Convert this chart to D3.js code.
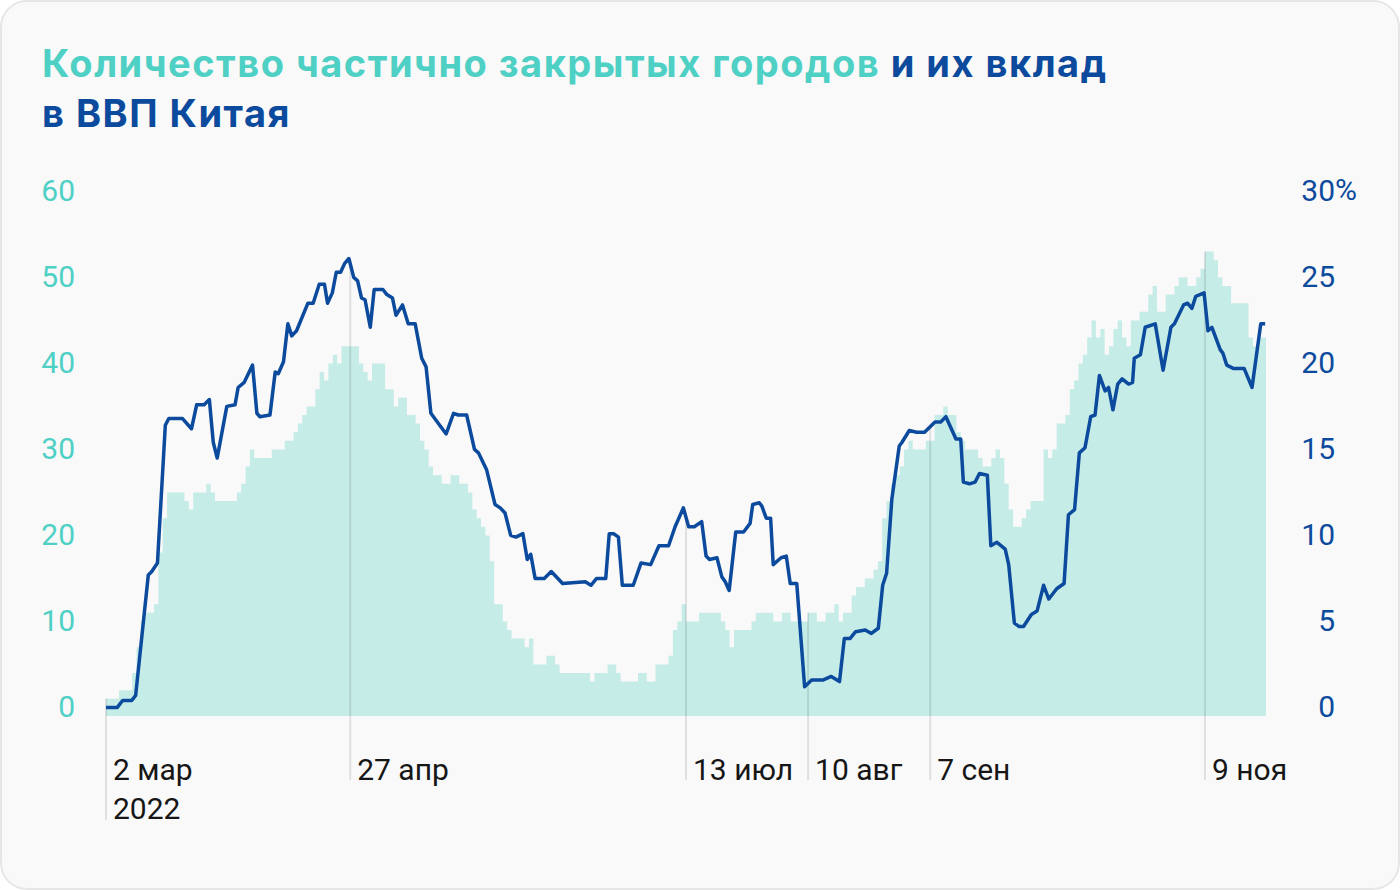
<!DOCTYPE html>
<html lang="ru">
<head>
<meta charset="utf-8">
<script src="https://cdn.jsdelivr.net/npm/d3@7"></script>
<style>
    body { margin: 0; background: #ffffff; }
    svg { display: block; font-family: Roboto, "Noto Sans", sans-serif; }
</style>
</head>
<body>
<div id="chart-area"></div>
<script>

// days are counted from 2 Mar 2022
const startDate = new Date(2022, 2, 2);
const lastDay = 266;

// partly locked-down cities: day where the count changes -> count
const cityStepDays = [
    0, 3, 6, 7, 8, 9, 11, 12, 13, 14,
    18, 19, 20, 23, 24, 25, 30, 31, 32, 33,
    34, 38, 41, 43, 44, 45, 46, 48, 49, 50,
    51, 52, 53, 54, 58, 59, 60, 61, 64, 66,
    67, 69, 71, 72, 73, 74, 75, 77, 79, 81,
    83, 84, 85, 86, 87, 88, 89, 91, 92, 93,
    96, 97, 98, 101, 103, 104, 111, 112, 115, 117,
    118, 122, 124, 126, 129, 130, 131, 132, 133, 136,
    141, 142, 143, 144, 148, 149, 153, 155, 157, 161,
    163, 165, 167, 168, 169, 171, 172, 174, 176, 177,
    178, 179, 180, 181, 182, 183, 184, 185, 188, 190,
    192, 193, 195, 196, 197, 200, 201, 203, 204, 205,
    206, 207, 208, 210, 211, 212, 215, 216, 217, 218,
    220, 221, 222, 223, 224, 225, 226, 227, 228, 229,
    230, 231, 232, 233, 234, 235, 237, 239, 240, 241,
    243, 245, 246, 248, 250, 251, 252, 254, 255, 256,
    258, 262, 263, 264
];
const cityCounts = [
    2, 3, 5, 8, 11, 12, 13, 19, 23, 26,
    25, 24, 26, 27, 26, 25, 26, 27, 29, 31,
    30, 31, 32, 33, 34, 35, 36, 38, 40, 39,
    41, 42, 41, 43, 41, 40, 39, 41, 38, 36,
    37, 35, 34, 32, 31, 29, 28, 27, 28, 27,
    26, 24, 23, 22, 21, 18, 13, 11, 10, 9,
    8, 9, 6, 7, 6, 5, 4, 5, 6, 5,
    4, 5, 4, 6, 7, 10, 11, 13, 11, 12,
    11, 10, 8, 10, 11, 12, 11, 12, 11, 12,
    11, 12, 13, 11, 12, 14, 15, 16, 17, 18,
    23, 25, 27, 28, 29, 31, 32, 31, 32, 35,
    36, 35, 33, 32, 31, 30, 29, 30, 31, 30,
    27, 24, 22, 23, 24, 25, 31, 30, 31, 34,
    35, 38, 39, 41, 42, 44, 46, 44, 45, 42,
    43, 45, 46, 44, 43, 46, 47, 49, 50, 47,
    49, 50, 51, 50, 51, 52, 54, 53, 51, 50,
    48, 44, 43, 44
];

// their share of China's GDP, %
const gdpDays = [
    0, 2.6, 3.8, 5.9, 6.8, 9.7, 10.5, 11.8, 13.6, 14.4,
    17.5, 19.6, 20.8, 22.5, 23.7, 24.6, 25.5, 27.7, 29.6, 30.3,
    31.7, 33.6, 34.6, 35.3, 37.6, 38.8, 39.5, 40.7, 41.7, 42.6,
    43.7, 46.3, 47.5, 48.9, 50.1, 50.8, 51.9, 52.8, 53.8, 54.7,
    55.7, 56.8, 57.7, 58.6, 59.4, 60.6, 61.5, 63.5, 64.4, 65.7,
    66.5, 68.0, 69.3, 70.9, 72.4, 73.4, 74.5, 78.0, 79.7, 80.8,
    82.7, 84.5, 85.4, 87.3, 89.2, 90.4, 91.5, 92.8, 94.0, 95.6,
    96.6, 97.4, 98.4, 100.5, 102.1, 104.7, 109.9, 111.2, 112.5, 114.6,
    115.4, 116.4, 117.5, 118.4, 120.9, 122.7, 124.9, 126.8, 129.0, 130.5,
    132.4, 133.6, 134.9, 136.6, 137.6, 138.4, 140.1, 141.2, 142.0, 142.9,
    144.4, 146.2, 147.7, 148.3, 149.8, 150.4, 151.4, 152.4, 153.0, 154.8,
    156.0, 156.9, 158.4, 160.2, 161.8, 164.5, 166.3, 168.2, 169.3, 170.6,
    171.9, 174.1, 175.5, 177.1, 178.1, 179.0, 180.2, 181.9, 182.5, 184.2,
    185.9, 187.7, 190.1, 191.4, 192.6, 194.9, 196.0, 196.6, 198.0, 199.3,
    200.3, 202.1, 202.9, 204.3, 206.2, 207.0, 208.3, 209.4, 210.4, 212.2,
    213.5, 215.0, 216.2, 218.0, 219.7, 220.7, 222.1, 223.2, 224.5, 225.8,
    226.8, 227.8, 229.1, 229.9, 230.9, 232.0, 233.0, 234.5, 235.4, 235.8,
    237.2, 238.3, 240.6, 242.4, 244.2, 245.0, 247.1, 248.0, 249.0, 249.9,
    251.8, 252.7, 253.6, 255.5, 256.1, 257.0, 258.6, 261.0, 262.8, 264.8,
    265.8
];
const gdpShare = [
    0.5, 0.5, 0.9, 0.9, 1.2, 8.2, 8.4, 8.9, 16.9, 17.3,
    17.3, 16.7, 18.1, 18.1, 18.4, 15.9, 15.0, 18.0, 18.1, 19.1,
    19.4, 20.4, 17.6, 17.4, 17.5, 20.0, 19.9, 20.6, 22.8, 22.1,
    22.4, 24.0, 24.0, 25.1, 25.1, 24.0, 24.6, 25.8, 25.8, 26.3,
    26.6, 25.5, 25.3, 24.3, 24.2, 22.6, 24.8, 24.8, 24.5, 24.3,
    23.3, 23.9, 22.8, 22.8, 20.8, 20.3, 17.6, 16.4, 17.6, 17.5,
    17.5, 15.5, 15.3, 14.3, 12.3, 12.1, 11.8, 10.5, 10.4, 10.6,
    9.1, 9.4, 8.0, 8.0, 8.4, 7.7, 7.8, 7.6, 8.0, 8.0,
    10.6, 10.6, 10.4, 7.6, 7.6, 8.9, 8.8, 9.9, 9.9, 11.0,
    12.1, 11.0, 11.0, 11.3, 9.3, 9.1, 9.2, 8.1, 7.8, 7.3,
    10.7, 10.7, 11.2, 12.3, 12.4, 12.2, 11.5, 11.5, 8.8, 9.2,
    9.3, 7.7, 7.7, 1.7, 2.1, 2.1, 2.3, 2.0, 4.5, 4.5,
    4.9, 5.0, 4.8, 5.1, 7.6, 8.3, 12.6, 15.7, 15.9, 16.6,
    16.5, 16.5, 17.1, 17.1, 17.4, 16.1, 16.1, 13.6, 13.5, 13.6,
    14.1, 14.0, 9.9, 10.1, 9.7, 8.8, 5.4, 5.2, 5.2, 5.9,
    6.1, 7.6, 6.8, 7.4, 7.7, 11.7, 12.0, 15.3, 15.6, 17.4,
    17.5, 19.8, 18.9, 19.1, 17.8, 19.3, 19.6, 19.3, 19.4, 20.8,
    21.0, 22.6, 22.8, 20.1, 22.6, 22.8, 23.9, 24.0, 23.7, 24.4,
    24.6, 22.4, 22.6, 21.3, 21.1, 20.4, 20.2, 20.2, 19.1, 22.8,
    22.8
];

const cityTicks = [0, 10, 20, 30, 40, 50, 60];
const gdpTicks = [0, 5, 10, 15, 20, 25, 30];
const dateTicks = [new Date(2022, 2, 2), new Date(2022, 3, 27), new Date(2022, 6, 13),
    new Date(2022, 7, 10), new Date(2022, 8, 7), new Date(2022, 10, 9)];
const dateTickLabels = ["2 мар", "27 апр", "13 июл", "10 авг", "7 сен", "9 ноя"];
const yearLabel = "2022";

const teal = "#4fd0c5";
const blue = "#0b4a9c";

class lockdownChart {

    constructor(parentElement) {
        this.parentElement = parentElement;
        this.initVis();
    }

    initVis() {
        let vis = this;

        vis.outerWidth = 1400;
        vis.outerHeight = 890;
        vis.margin = {top: 200, right: 134, bottom: 174, left: 106};
        vis.width = vis.outerWidth - vis.margin.left - vis.margin.right;
        vis.height = vis.outerHeight - vis.margin.top - vis.margin.bottom;

        vis.root = d3.select("#" + vis.parentElement).append("svg")
            .attr("width", vis.outerWidth)
            .attr("height", vis.outerHeight);

        // card
        vis.root.append("rect")
            .attr("x", 1).attr("y", 1)
            .attr("width", vis.outerWidth - 2).attr("height", vis.outerHeight - 2)
            .attr("rx", 26)
            .attr("fill", "#f9f9f9")
            .attr("stroke", "#e6e6e6")
            .attr("stroke-width", 2);

        // title
        let title = vis.root.append("text")
            .attr("x", 42).attr("y", 77)
            .attr("font-family", "Inter, Roboto, sans-serif")
            .attr("font-size", 38)
            .attr("font-weight", 700)
            .attr("letter-spacing", 1.5);
        title.append("tspan").attr("fill", teal).text("Количество частично закрытых городов");
        title.append("tspan").attr("fill", blue).text(" и их вклад");
        vis.root.append("text")
            .attr("x", 42).attr("y", 127)
            .attr("font-family", "Inter, Roboto, sans-serif")
            .attr("font-size", 38)
            .attr("font-weight", 700)
            .attr("letter-spacing", 1.5)
            .attr("fill", blue)
            .text("в ВВП Китая");

        vis.svg = vis.root.append("g")
            .attr("transform", `translate(${vis.margin.left}, ${vis.margin.top})`);

        // Scales
        vis.x = d3.scaleLinear().domain([0, lastDay]).range([0, vis.width]);
        vis.yCities = d3.scaleLinear().domain([0, 60]).range([vis.height, 0]);
        vis.yShare = d3.scaleLinear().domain([0, 30]).range([vis.height, 0]);

        vis.areaGroup = vis.svg.append("g").attr("class", "area");
        vis.gridGroup = vis.svg.append("g").attr("class", "date-grid");
        vis.lineGroup = vis.svg.append("g").attr("class", "line");

        // Axes
        vis.svg.append("g")
            .attr("class", "y-axis-left")
            .call(d3.axisLeft(vis.yCities).tickValues(cityTicks).tickSize(0).tickPadding(31));
        vis.svg.append("g")
            .attr("class", "y-axis-right")
            .attr("transform", `translate(${vis.width}, 0)`)
            .call(d3.axisRight(vis.yShare).tickValues(gdpTicks).tickSize(0).tickPadding(69));

        vis.svg.selectAll(".y-axis-left .domain, .y-axis-right .domain").remove();
        vis.svg.selectAll(".y-axis-left text")
            .attr("dy", 0)
            .attr("font-size", 30)
            .attr("font-family", "Roboto, sans-serif")
            .attr("fill", teal);
        vis.svg.selectAll(".y-axis-right text")
            .attr("dy", 0)
            .attr("text-anchor", "end")
            .attr("font-size", 30)
            .attr("font-family", "Roboto, sans-serif")
            .attr("fill", blue);
        vis.svg.append("text")
            .attr("x", vis.width + 69)
            .attr("y", vis.yShare(d3.max(gdpTicks)))
            .attr("font-size", 30)
            .attr("fill", blue)
            .text("%");

        this.wrangleData();
    }

    wrangleData() {
        let vis = this;

        vis.cityData = cityStepDays.map((d, i) => ({day: d, count: cityCounts[i]}));
        // close the last step at the end of the period
        vis.cityData.push({day: lastDay, count: cityCounts[cityCounts.length - 1]});

        vis.shareData = gdpDays.map((d, i) => ({day: d, share: gdpShare[i]}));

        vis.tickData = dateTicks.map((d, i) => {
            let day = d3.timeDay.count(startDate, d);
            let stepIdx = d3.bisectRight(cityStepDays, day) - 1;
            let j = Math.max(1, d3.bisectLeft(gdpDays, day));
            let t = (day - gdpDays[j - 1]) / (gdpDays[j] - gdpDays[j - 1]);
            let share = gdpShare[j - 1] + t * (gdpShare[j] - gdpShare[j - 1]);
            return {day: day, label: dateTickLabels[i], count: cityCounts[stepIdx], share: share, first: i === 0};
        });

        vis.updateVis();
    }

    updateVis() {
        let vis = this;

        let area = d3.area()
            .curve(d3.curveStepAfter)
            .x(d => vis.x(d.day))
            .y0(vis.yCities(0))
            .y1(d => vis.yCities(d.count));

        vis.areaGroup.append("path")
            .datum(vis.cityData)
            .attr("d", area)
            .attr("fill", "#c6ece8");

        // drop lines for dates
        let ticks = vis.gridGroup.selectAll(".date-tick")
            .data(vis.tickData)
            .enter().append("g")
            .attr("class", "date-tick")
            .attr("transform", d => `translate(${vis.x(d.day)}, 0)`);

        ticks.append("line")
            .attr("y1", d => Math.min(vis.yCities(d.count), vis.yShare(d.share)))
            .attr("y2", d => vis.height + (d.first ? 104 : 64))
            .attr("stroke", "#000")
            .attr("stroke-opacity", 0.1)
            .attr("stroke-width", 2);

        ticks.append("text")
            .attr("x", 7)
            .attr("y", vis.height + 64)
            .attr("font-size", 30)
            .attr("fill", "#161616")
            .text(d => d.label);

        ticks.filter(d => d.first).append("text")
            .attr("x", 7)
            .attr("y", vis.height + 103)
            .attr("font-size", 30)
            .attr("fill", "#161616")
            .text(yearLabel);

        let line = d3.line()
            .x(d => vis.x(d.day))
            .y(d => vis.yShare(d.share));

        vis.lineGroup.append("path")
            .datum(vis.shareData)
            .attr("d", line)
            .attr("fill", "none")
            .attr("stroke", blue)
            .attr("stroke-width", 3.5)
            .attr("stroke-linejoin", "round");
    }
}

let main_chart = new lockdownChart("chart-area");

</script>
</body>
</html>
